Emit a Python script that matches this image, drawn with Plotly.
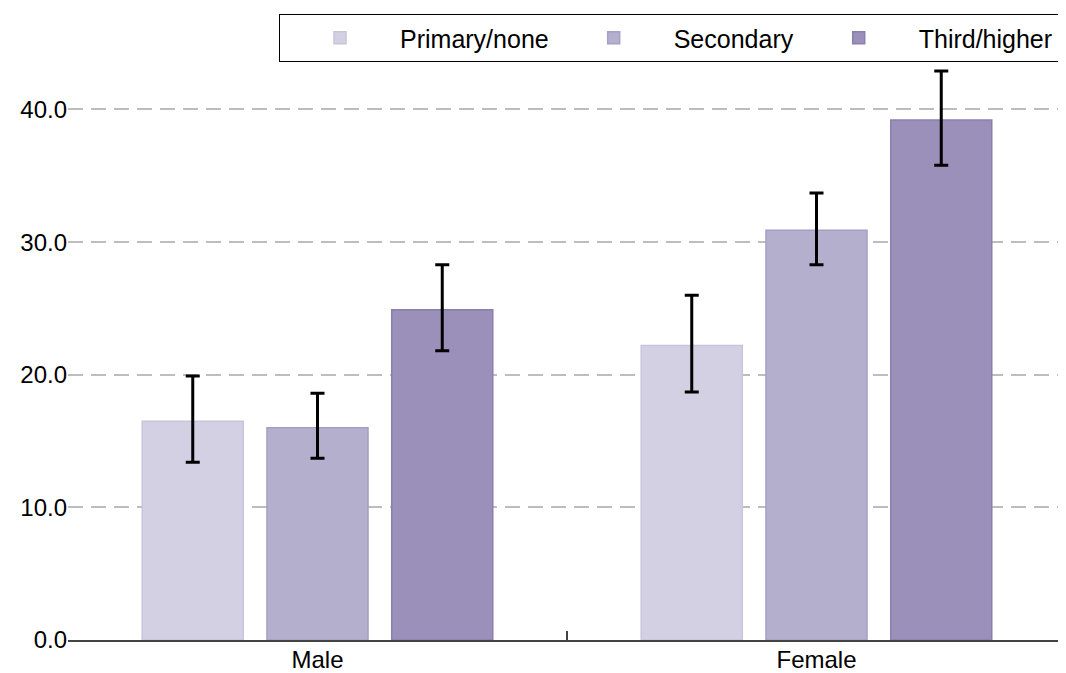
import plotly.graph_objects as go

categories = ["Male", "Female"]
series_names = ["Primary/none", "Secondary", "Third/higher"]
values = {
    "Primary/none": [16.5, 22.2],
    "Secondary": [16.0, 30.9],
    "Third/higher": [24.9, 39.2],
}
err_upper = {
    "Primary/none": [19.9, 26.0],
    "Secondary": [18.6, 33.7],
    "Third/higher": [28.3, 42.9],
}
err_lower = {
    "Primary/none": [13.4, 18.7],
    "Secondary": [13.7, 28.3],
    "Third/higher": [21.8, 35.8],
}
fills = {"Primary/none": "#d4d0e3", "Secondary": "#b5afce", "Third/higher": "#9a90b9"}
edges = {"Primary/none": "#c9c3dc", "Secondary": "#a69ec6", "Third/higher": "#8a7fae"}

fig = go.Figure()
for s in series_names:
    v = values[s]
    up = [u - x for u, x in zip(err_upper[s], v)]
    lo = [x - l for l, x in zip(err_lower[s], v)]
    fig.add_trace(go.Bar(
        x=categories, y=v, name=s,
        marker=dict(color=fills[s], line=dict(color=edges[s], width=1.5)),
        error_y=dict(type="data", symmetric=False, array=up, arrayminus=lo,
                     color="black", thickness=3, width=7),
    ))

fig.update_layout(
    width=1058, height=665,
    margin=dict(l=60, r=0, t=6, b=33, pad=0),
    paper_bgcolor="white", plot_bgcolor="white",
    font=dict(family="Liberation Sans, Arial, sans-serif", size=24, color="black"),
    barmode="group", bargap=0.25, bargroupgap=0.19,
    showlegend=True,
    legend=dict(orientation="h", x=0.993, xanchor="right", y=1, yanchor="top",
                bordercolor="black", borderwidth=1, bgcolor="white",
                font=dict(size=25), itemwidth=110),
    xaxis=dict(showline=True, linecolor="#444", linewidth=2, automargin=False,
               ticks="inside", tickson="boundaries", ticklen=9, tickcolor="#444",
               tickwidth=1.5, showgrid=False, tickfont=dict(size=24),
               ticklabelstandoff=-3),
    yaxis=dict(range=[0, 47.2], tickvals=[0, 10, 20, 30, 40], tickformat=".1f",
               automargin=False,
               showgrid=True, gridcolor="#bdbdbd", griddash="15px,8px", gridwidth=1.5,
               zeroline=False, showline=False, ticks="", tickfont=dict(size=24)),
)
fig.write_html("out.html")
